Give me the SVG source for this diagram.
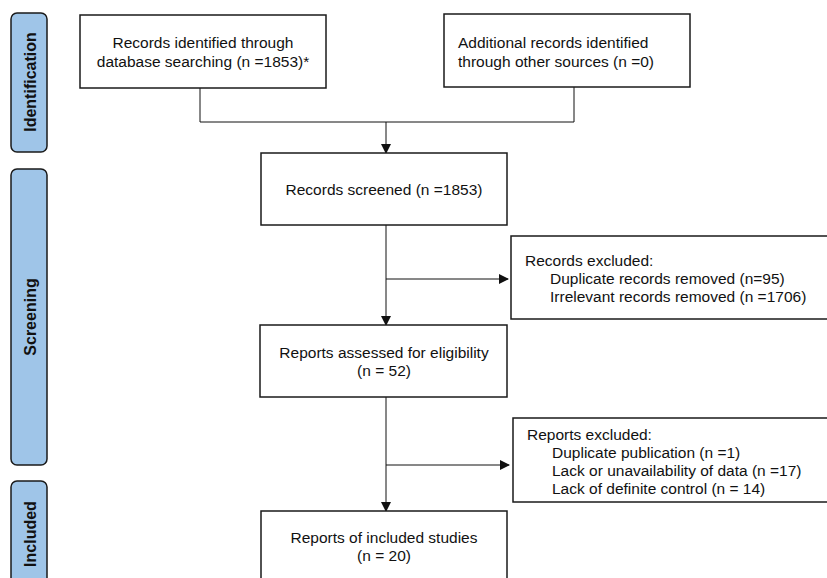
<svg xmlns="http://www.w3.org/2000/svg" width="827" height="578" viewBox="0 0 827 578">
<style>
.box{fill:#fff;stroke:#1a1a1a;stroke-width:1.5}
.bar{fill:#9fc5e8;stroke:#1a1a1a;stroke-width:1.5}
.t{font-family:"Liberation Sans",Arial,sans-serif;font-size:15.5px;fill:#111}
.c{text-anchor:middle}
.s{font-family:"Liberation Sans",Arial,sans-serif;font-size:16px;font-weight:bold;fill:#111;text-anchor:middle}
.ln{fill:none;stroke:#111;stroke-width:1}
</style>
<defs>
<marker id="ah" markerWidth="10" markerHeight="10" refX="9" refY="5" orient="auto" markerUnits="userSpaceOnUse">
<path d="M0,0 L10,5 L0,10 Z" fill="#111"/>
</marker>
<clipPath id="cx2"><rect x="513" y="419" width="320" height="82"/></clipPath>
</defs>
<rect width="827" height="578" fill="#fff"/>

<g id="phase-identification">
<rect class="bar" x="11" y="13" width="36" height="139" rx="6"/>
<text class="s" transform="translate(35.5,82) rotate(-90)">Identification</text>
</g>
<g id="phase-screening">
<rect class="bar" x="11" y="169" width="36" height="296" rx="6"/>
<text class="s" transform="translate(35.5,317) rotate(-90)">Screening</text>
</g>
<g id="phase-included">
<rect class="bar" x="11" y="481" width="36" height="110" rx="6"/>
<text class="s" transform="translate(35.5,534) rotate(-90)">Included</text>
</g>

<g id="connectors">
<polyline class="ln" points="200,88 200,122 574,122 574,87"/>
<line class="ln" x1="386" y1="122" x2="386" y2="153" marker-end="url(#ah)"/>
<line class="ln" x1="386" y1="225" x2="386" y2="325" marker-end="url(#ah)"/>
<line class="ln" x1="386" y1="279" x2="508" y2="279" marker-end="url(#ah)"/>
<line class="ln" x1="386" y1="397" x2="386" y2="511" marker-end="url(#ah)"/>
<line class="ln" x1="386" y1="465" x2="509" y2="465" marker-end="url(#ah)"/>
</g>

<g id="n-database">
<rect class="box" x="80" y="15" width="246" height="73"/>
<text class="t c" x="203" y="48">Records identified through</text>
<text class="t c" x="203" y="67">database searching (n =1853)*</text>
</g>
<g id="n-other">
<rect class="box" x="444" y="14" width="246" height="73"/>
<text class="t" x="458" y="48">Additional records identified</text>
<text class="t" x="458" y="67">through other sources (n =0)</text>
</g>
<g id="n-screened">
<rect class="box" x="261" y="153" width="246" height="72"/>
<text class="t c" x="384" y="195">Records screened (n =1853)</text>
</g>
<g id="n-excluded1">
<rect class="box" x="511" y="236" width="330" height="83"/>
<text class="t" x="525" y="266">Records excluded:</text>
<text class="t" x="550" y="284">Duplicate records removed (n=95)</text>
<text class="t" x="550" y="302">Irrelevant records removed (n =1706)</text>
</g>
<g id="n-assessed">
<rect class="box" x="260" y="325" width="247" height="72"/>
<text class="t c" x="384" y="358">Reports assessed for eligibility</text>
<text class="t c" x="384" y="376">(n = 52)</text>
</g>
<g id="n-excluded2">
<rect class="box" x="513" y="418" width="330" height="84"/>
<g clip-path="url(#cx2)">
<text class="t" x="527" y="440">Reports excluded:</text>
<text class="t" x="552" y="458">Duplicate publication (n =1)</text>
<text class="t" x="552" y="476">Lack or unavailability of data (n =17)</text>
<text class="t" x="552" y="494">Lack of definite control (n = 14)</text>
</g>
</g>
<g id="n-included">
<rect class="box" x="261" y="511" width="246" height="80"/>
<text class="t c" x="384" y="543">Reports of included studies</text>
<text class="t c" x="384" y="561">(n = 20)</text>
</g>
</svg>
